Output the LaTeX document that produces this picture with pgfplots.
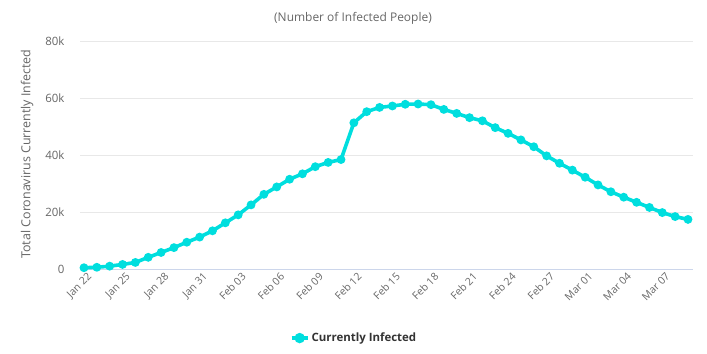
\documentclass[border=0pt]{standalone}
\usepackage{pgfplots}
\pgfplotsset{compat=1.18}
\usepackage{fontspec}
\setmainfont{Open Sans}
\definecolor{linec}{RGB}{0,222,222}
\definecolor{txt}{RGB}{102,102,102}
\definecolor{gridc}{RGB}{232,232,232}
\definecolor{basec}{RGB}{204,214,235}
\begin{document}
\begin{tikzpicture}
\useasboundingbox (0bp,0bp) rectangle (707bp,354bp);
\begin{axis}[
  at={(80bp,85bp)}, anchor=south west,
  scale only axis, width=613bp, height=228bp,
  xmin=-0.31, xmax=47.39, ymin=0, ymax=80000,
  axis x line*=bottom, axis y line*=left,
  x axis line style={basec, line width=0.8pt, -},
  y axis line style={draw=none},
  xtick={0,3,...,45},
  xticklabels={Jan 22,Jan 25,Jan 28,Jan 31,Feb 03,Feb 06,Feb 09,Feb 12,Feb 15,Feb 18,Feb 21,Feb 24,Feb 27,Mar 01,Mar 04,Mar 07},
  x tick label style={rotate=45, anchor=north east, font=\fontsize{10.5}{12}\selectfont, text=txt, inner sep=1bp, xshift=1bp, yshift=-3bp},
  major tick length=0pt,
  scaled y ticks=false,
  ytick={0,20000,40000,60000,80000},
  yticklabels={0,20k,40k,60k,80k},
  ymajorgrids, grid style={gridc, line width=0.8pt},
  y tick label style={font=\fontsize{11.5}{13}\selectfont, text=txt, xshift=-12bp},
  clip=false,
  legend style={at={(0.447,-0.303)}, anchor=center, draw=none, fill=none, font=\fontsize{11.5}{13}\selectfont\bfseries, text=black!80},
  legend image code/.code={\draw[linec, line width=3.8bp] (0bp,0bp) -- (16bp,0bp); \fill[linec] (8bp,0bp) circle (3.3bp);},
]
\addplot[linec, line width=3.6bp, mark=*, mark size=2.5bp, mark options={fill=linec, draw=linec}] coordinates {
(0,450) (1,600) (2,1000) (3,1600) (4,2300) (5,4100) (6,5800) (7,7500) (8,9400) (9,11200)
(10,13400) (11,16200) (12,19000) (13,22500) (14,26200) (15,28800) (16,31500) (17,33400) (18,35900) (19,37400)
(20,38400) (21,51300) (22,55200) (23,56700) (24,57200) (25,57800) (26,57900) (27,57650) (28,56000) (29,54600)
(30,53100) (31,52000) (32,49600) (33,47600) (34,45300) (35,42900) (36,39700) (37,37100) (38,34700) (39,32200)
(40,29500) (41,27100) (42,25200) (43,23400) (44,21600) (45,19800) (46,18400) (47,17400)
};
\addlegendentry{Currently Infected}
\end{axis}
\node[text=txt, font=\fontsize{12}{14}\selectfont] at (353bp,336bp) {(Number of Infected People)};
\node[text=txt, font=\fontsize{12.5}{14}\selectfont, rotate=90] at (27bp,200bp) {Total Coronavirus Currently Infected};
\end{tikzpicture}
\end{document}
